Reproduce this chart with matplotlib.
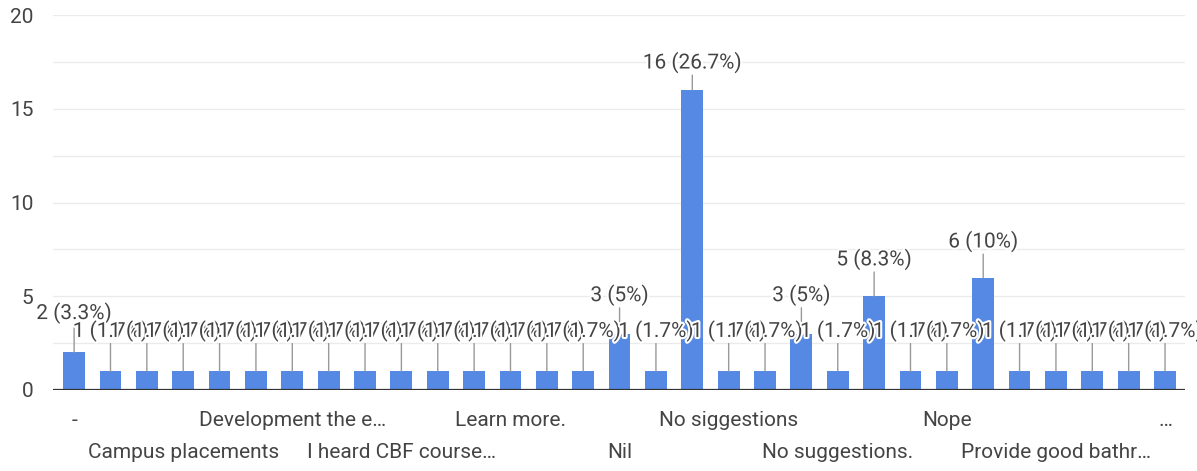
import matplotlib.pyplot as plt
import matplotlib.patheffects as pe
import numpy as np

plt.rcParams['font.family'] = ['Roboto', 'DejaVu Sans']

# responses (only every third name is printed on the axis)
categories = ["-", "", "", "Campus placements", "", "", "Development the e…", "", "",
              "I heard CBF course…", "", "", "Learn more.", "", "", "Nil", "", "",
              "No siggestions", "", "", "No suggestions.", "", "", "Nope", "", "",
              "Provide good bathr…", "", "", "…"]
counts = [2, 1, 1, 1, 1, 1, 1, 1, 1, 1, 1, 1, 1, 1, 1, 3, 1, 16, 1, 1, 3, 1, 5, 1, 1, 6, 1, 1, 1, 1, 1]
total = sum(counts)

text_col = "#444444"
bar_col = "#5589e3"

fig = plt.figure(figsize=(11.97, 4.71), dpi=100)
ax = fig.add_axes([0.0443, 0.172, 0.9457, 0.796])

x = np.arange(len(counts))
ax.bar(x, counts, width=0.6, color=bar_col, zorder=3)

ax.set_xlim(-0.58, len(counts) - 0.45)
ax.set_ylim(0, 20)
ax.set_yticks([0, 5, 10, 15, 20])
ax.set_yticks(np.arange(2.5, 20, 5), minor=True)
ax.grid(axis='y', which='both', color='#ebebeb', lw=1, zorder=0)
ax.axhline(0, color='#333333', lw=1.6, zorder=4)
for s in ax.spines.values():
    s.set_visible(False)
ax.tick_params(axis='both', which='both', length=0, labelsize=15, labelcolor=text_col)
ax.tick_params(axis='y', pad=14)
ax.tick_params(axis='x', pad=15)

# two staggered rows of category names, every third bar
labels = []
for i, name in enumerate(categories):
    if i % 3 != 0:
        labels.append("")
    elif (i // 3) % 2 == 0:
        labels.append(name)
    else:
        labels.append("\n" + name)
ax.set_xticks(x, labels)
for t in ax.get_xticklabels():
    t.set_linespacing(1.9)

# value labels with leader lines (taller bars get slightly shorter leaders)
for i, v in enumerate(counts):
    pct = round(v / total * 100, 1)
    off = (41 - 0.85 * v) / 1.389
    ax.annotate(f"{v} ({pct:g}%)", xy=(i, v), xytext=(0, off), textcoords='offset points',
                ha='center', va='center', fontsize=15, color=text_col, zorder=10 + i,
                path_effects=[pe.withStroke(linewidth=3, foreground='white')],
                annotation_clip=False)
    ax.annotate("", xy=(i, v), xytext=(0, off - 9), textcoords='offset points',
                arrowprops=dict(arrowstyle='-', color='#999999', lw=1, shrinkA=0, shrinkB=0),
                zorder=5)

fig.savefig("out.png", dpi=100)
